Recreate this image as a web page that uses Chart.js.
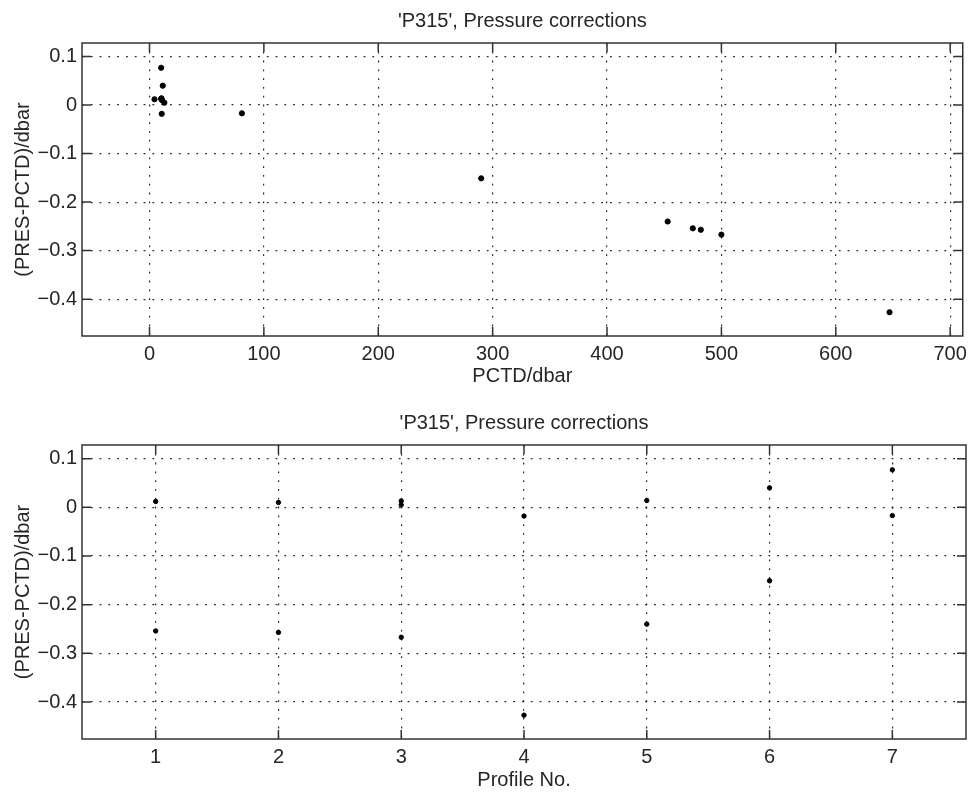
<!DOCTYPE html>
<html>
<head>
<meta charset="utf-8">
<title>'P315', Pressure corrections</title>
<script src="https://cdn.jsdelivr.net/npm/chart.js@4.4.1/dist/chart.umd.min.js"></script>
<style>
  body { margin: 0; background: #fff; }
  canvas { display: block; }
</style>
</head>
<body>
<canvas id="chartPctd" width="973" height="396"></canvas>
<canvas id="chartProfile" width="973" height="396"></canvas>
<script>
// one entry per sample (profile, CTD pressure, correction)
const profileNo     = [1, 1, 2, 2, 3, 3, 3, 4, 4, 5, 5, 6, 6, 7, 7];
const pctd          = [4.4, 475, 11.0, 482, 10.2, 13.0, 500, 10.7, 647, 10.5, 453, 11.6, 290, 10.2, 80.8];
const presMinusPctd = [0.012, -0.254, 0.010, -0.257, 0.013, 0.005, -0.267, -0.018, -0.427, 0.014, -0.240, 0.040, -0.151, 0.077, -0.017];

const pctdTicks    = [0, 100, 200, 300, 400, 500, 600, 700];
const profileTicks = [1, 2, 3, 4, 5, 6, 7];
const corrTicks    = [0.1, 0, -0.1, -0.2, -0.3, -0.4];

const chartTitle = "'P315', Pressure corrections";
const yTitle = "(PRES-PCTD)/dbar";

const FONT = { family: "'Liberation Sans', Arial, sans-serif", size: 20 };
const TEXT = "#262626";
const GRID = "rgba(0,0,0,0.85)";
const DOTS = [1.8, 7];

// MATLAB-like box with inward tick marks
const boxPlugin = {
  id: "boxTicks",
  afterDraw(chart) {
    const { ctx, chartArea: a, scales } = chart;
    const len = 9;
    ctx.save();
    ctx.strokeStyle = "#333";
    ctx.lineWidth = 1.5;
    ctx.strokeRect(a.left, a.top, a.right - a.left, a.bottom - a.top);
    ctx.beginPath();
    scales.x.ticks.forEach(t => {
      const px = scales.x.getPixelForValue(t.value);
      ctx.moveTo(px, a.bottom); ctx.lineTo(px, a.bottom - len);
      ctx.moveTo(px, a.top); ctx.lineTo(px, a.top + len);
    });
    scales.y.ticks.forEach(t => {
      const py = scales.y.getPixelForValue(t.value);
      ctx.moveTo(a.left, py); ctx.lineTo(a.left + len, py);
      ctx.moveTo(a.right, py); ctx.lineTo(a.right - len, py);
    });
    ctx.stroke();
    ctx.restore();
  }
};

function makeChart(id, xs, cfg) {
  const points = xs.map((x, i) => ({ x: x, y: presMinusPctd[i] }));
  return new Chart(document.getElementById(id), {
    type: "scatter",
    data: {
      datasets: [{
        data: points,
        backgroundColor: "#000",
        borderColor: "#000",
        pointRadius: cfg.radius,
        pointHoverRadius: cfg.radius
      }]
    },
    options: {
      responsive: false,
      animation: false,
      layout: { padding: { left: 0, right: 7, top: 0, bottom: 0 } },
      plugins: {
        legend: { display: false },
        tooltip: { enabled: false },
        title: {
          display: true,
          text: chartTitle,
          fullSize: false,
          color: TEXT,
          font: { ...FONT, weight: "normal" },
          padding: cfg.titlePad
        }
      },
      scales: {
        x: {
          type: "linear",
          min: cfg.xMin,
          max: cfg.xMax,
          afterBuildTicks: s => { s.ticks = cfg.xTicks.map(v => ({ value: v })); },
          afterFit: s => { s.height = cfg.xAxisHeight; },
          ticks: { color: TEXT, font: FONT, padding: 6, maxRotation: 0, callback: v => String(v) },
          grid: { color: GRID, lineWidth: 1.2, drawTicks: false },
          border: { display: false, dash: DOTS },
          title: { display: true, text: cfg.xTitle, color: TEXT, font: FONT, padding: { top: 0, bottom: cfg.xTitlePad } }
        },
        y: {
          type: "linear",
          min: -0.476,
          max: 0.128,
          afterBuildTicks: s => { s.ticks = corrTicks.map(v => ({ value: v })); },
          afterFit: s => { s.width = 82; },
          ticks: {
            color: TEXT, font: FONT, padding: 5,
            callback: v => (v === 0 ? "0" : v.toFixed(1).replace("-", "\u2212"))
          },
          grid: { color: GRID, lineWidth: 1.2, drawTicks: false },
          border: { display: false, dash: DOTS },
          title: { display: true, text: yTitle, color: TEXT, font: FONT, padding: { top: 11, bottom: 0 } }
        }
      }
    },
    plugins: [boxPlugin]
  });
}

makeChart("chartPctd", pctd, {
  xMin: -59, xMax: 711, xTicks: pctdTicks, xTitle: "PCTD/dbar",
  xAxisHeight: 60, xTitlePad: 8, radius: 2.6,
  titlePad: { top: 9, bottom: 10 }
});

makeChart("chartProfile", profileNo, {
  xMin: 0.4, xMax: 7.6, xTicks: profileTicks, xTitle: "Profile No.",
  xAxisHeight: 53, xTitlePad: 0, radius: 2.2,
  titlePad: { top: 15, bottom: 10 }
});
</script>
</body>
</html>
